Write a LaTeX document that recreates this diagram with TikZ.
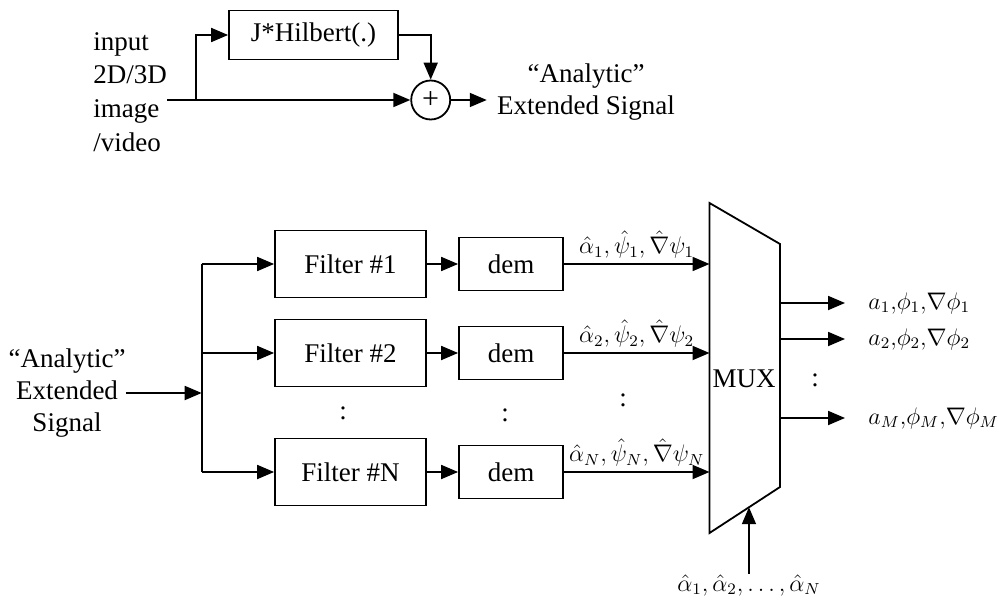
\documentclass[tikz,border=0pt]{standalone}
\usepackage{amsmath}
\usepackage{fontspec}
\setmainfont{Liberation Serif}
\usetikzlibrary{positioning,arrows.meta,calc}
\tikzstyle{pixels} = [x = 0.5pt, y = -0.5pt]
\tikzstyle{wireLine} = [line width = 0.9pt]
\tikzstyle{arrowLine} = [wireLine, -{Triangle[length = 8.5pt, width = 7pt]}]
\tikzstyle{textStyle} = [font = \fontsize{13.5}{16}\selectfont, inner sep = 0pt, align = center]
\tikzstyle{blockStyle} = [draw, line width = 0.9pt, font = \fontsize{13.5}{16}\selectfont, inner sep = 0pt]
\tikzstyle{filterStyle} = [blockStyle, minimum width = 75.5pt, minimum height = 33.5pt]
\tikzstyle{demStyle} = [blockStyle, minimum width = 52pt, minimum height = 26.5pt]
\tikzstyle{sumStyle} = [draw, circle, line width = 0.9pt, minimum size = 19.5pt, inner sep = 0pt, font = \fontsize{15}{15}\selectfont]
\tikzstyle{mathText} = [font = \fontsize{11.5}{13}\selectfont, inner sep = 0pt]
\newcommand{\filterRow}[3]{
  \coordinate (tap#1) at (201.7, #2);
  \node [filterStyle] (filter#1) at (350.5, #2) {Filter \##1};
  \node [demStyle] (dem#1) at (511, #2) {dem};
  \draw [arrowLine] (tap#1) -- (filter#1);
  \draw [arrowLine] (filter#1) -- (dem#1);
  \draw [arrowLine] (dem#1) -- (dem#1 -| muxTopLeft) node [mathText, midway, above = 2.5pt] {$#3$};
}
\newcommand{\outputRow}[3]{
  \node [mathText, anchor = west] (out#1) at (868, #2) {$#3$};
  \draw [arrowLine] (out#1.west -| muxTopRight) -- ([xshift = -11.5pt] out#1.west);
}

\begin{document}
\begin{tikzpicture}[pixels]
  \useasboundingbox (0, 0) rectangle (999, 604);

  \node [textStyle, align = left, anchor = west, font = \fontsize{13.5}{16.85}\selectfont] (inputText) at (93, 92) {input\\2D/3D\\image\\/video};
  \node [blockStyle, minimum width = 84.5pt, minimum height = 24.5pt] (hilbert) at (313.5, 35) {J*Hilbert(.)};
  \node [sumStyle] (sum) at (430.7, 100) {+};
  \node [textStyle] (analyticOut) at (586, 92) {“Analytic”\\Extended Signal};
  \coordinate (inputStart) at (167, 100);
  \coordinate (split) at (196, 100);
  \draw [wireLine] (inputStart) -- (split);
  \draw [arrowLine] (split) -- (sum);
  \draw [arrowLine] (split) |- (hilbert);
  \draw [arrowLine] (hilbert) -| (sum);
  \draw [arrowLine, shorten >= 5pt] (sum) -- (sum -| analyticOut.west);

  \coordinate (muxTopLeft) at (709.5, 203);
  \coordinate (muxTopRight) at (780, 244);
  \coordinate (muxBottomRight) at (780, 487);
  \coordinate (muxBottomLeft) at (709.5, 533);
  \draw [wireLine] (muxTopLeft) -- (muxTopRight) -- (muxBottomRight) -- (muxBottomLeft) -- cycle;
  \node [textStyle] (muxText) at (744, 379) {MUX};

  \node [textStyle] (signalIn) at (67, 393) {“Analytic”\\Extended\\Signal};
  \filterRow{1}{264}{\hat{\alpha}_1, \hat{\psi}_1, \hat{\nabla}\psi_1}
  \filterRow{2}{353}{\hat{\alpha}_2, \hat{\psi}_2, \hat{\nabla}\psi_2}
  \filterRow{N}{472}{\hat{\alpha}_N, \hat{\psi}_N, \hat{\nabla}\psi_N}
  \draw [wireLine] (tap1) -- (tapN);
  \draw [arrowLine] (signalIn.east) -- (signalIn.east -| tap1);

  \node [textStyle] (filterDots) at (343, 413) {:};
  \node [textStyle] (demDots) at (505, 415) {:};
  \node [textStyle] (labelDots) at (623, 400) {:};
  \node [textStyle] (outDots) at (815, 380) {:};

  \outputRow{1}{303}{a_1{,}\phi_1{,}\nabla\phi_1}
  \outputRow{2}{339}{a_2{,}\phi_2{,}\nabla\phi_2}
  \outputRow{M}{418}{a_M{,}\phi_M{,}\nabla\phi_M}

  \node [mathText] (selText) at (749, 585) {$\hat{\alpha}_1, \hat{\alpha}_2, \ldots, \hat{\alpha}_N$};
  \coordinate (selIn) at ($(muxBottomLeft)!0.56!(muxBottomRight)$);
  \draw [arrowLine] (selText.north -| selIn) -- (selIn);
\end{tikzpicture}
\end{document}
